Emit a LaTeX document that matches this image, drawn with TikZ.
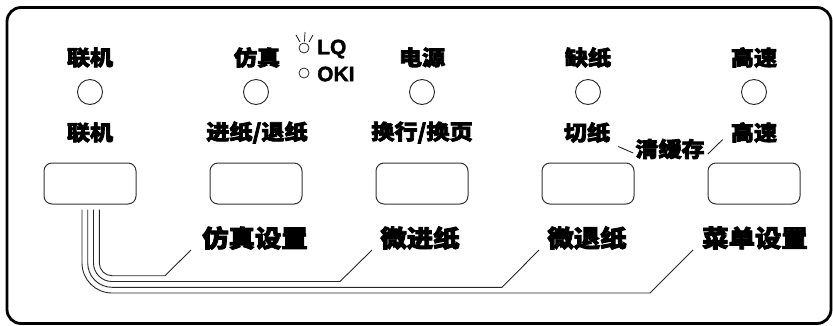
\documentclass[tikz,border=0pt]{standalone}
\usepackage{fontspec}
\newfontfamily\cjk{Noto Sans CJK SC}[FakeBold=3.5,FakeStretch=1.1]
\newfontfamily\lat{Liberation Sans Bold}[FakeBold=1.5]
\usetikzlibrary{calc}
\tikzset{
  lbl/.style={font=\cjk\bfseries\fontsize{21}{21}\selectfont, inner sep=0pt, text=black},
  biglbl/.style={font=\cjk\bfseries\fontsize{24}{24}\selectfont, inner sep=0pt, text=black},
  latlbl/.style={font=\lat\fontsize{21}{21}\selectfont, inner sep=0pt, anchor=west},
  led/.style={circle, draw=black!85, line width=0.9pt, minimum size=25pt, inner sep=0pt},
  miniled/.style={circle, draw=black!85, line width=0.8pt, minimum size=10pt, inner sep=0pt},
  pbutton/.style={draw=black!80, line width=1pt, rounded corners=8pt, minimum width=92pt, minimum height=41pt, inner sep=0pt},
  wire/.style={draw=black!85, line width=0.9pt},
  panel/.style={draw=black, line width=2.8pt, rounded corners=14pt}
}
\begin{document}
\begin{tikzpicture}[x=1pt,y=-1pt]
\clip (0,0) rectangle (833,325);
\draw[panel] (7,7.5) rectangle (831,323.5);

% top labels
\node[lbl] (t1) at (90,57.5) {联机};
\node[lbl] (t2) at (257,57.5) {仿真};
\node[lbl] (t3) at (422,57.5) {电源};
\node[lbl] (t4) at (588,57.5) {缺纸};
\node[lbl] (t5) at (754,57.5) {高速};

% LQ / OKI
\node[miniled] (sun) at (304,48) {};
\node[miniled] (okiled) at (304,73) {};
\draw[line width=0.7pt] (296,35) -- (300,42);
\draw[line width=0.7pt] (305,32) -- (304.5,41.5);
\draw[line width=0.7pt] (313,35) -- (309,42);
\node[latlbl] (lq) at (317,49) {LQ};
\node[latlbl] (oki) at (317,74) {OKI};

% LEDs
\foreach \i/\x in {1/90,2/256,3/422,4/588,5/754}
  \node[led] (l\i) at (\x,92) {};

% second labels
\node[lbl] (s1) at (90,132.5) {联机};
\node[lbl] (s2) at (257,132.5) {进纸/退纸};
\node[lbl] (s3) at (422,132.5) {换行/换页};
\node[lbl] (s4) at (587,132.5) {切纸};
\node[lbl] (s5) at (754,132.5) {高速};
\node[lbl] (clr) at (670,149) {清缓存};
\draw[wire] ($(s4.east)+(8,14)$) -- ($(clr.west)+(-2,4)$);
\draw[wire] ($(clr.east)+(3,5)$) -- ($(s5.west)+(-8,7)$);

% buttons
\foreach \i/\x in {1/90,2/256,3/422,4/588,5/754}
  \node[pbutton] (b\i) at (\x,183.5) {};

% bottom labels
\node[biglbl] (f1) at (255,238) {仿真设置};
\node[biglbl] (f2) at (420,238) {微进纸};
\node[biglbl] (f3) at (587,238) {微退纸};
\node[biglbl] (f4) at (755,238) {菜单设置};

\coordinate (e1) at (191,250);
\coordinate (e2) at (372,250);
\coordinate (e3) at (539,250);
\coordinate (e4) at (693,250);

\draw[wire] ($(b1.south)+(9.3,5)$) -- (99.3,263) arc[start angle=180, end angle=90, radius=12.7] -- (165,275.7) -- (e1);
\draw[wire] ($(b1.south)+(3.5,5)$) -- (93.5,263) arc[start angle=180, end angle=90, radius=18.5] -- (340,281.5) -- (e2);
\draw[wire] ($(b1.south)+(-2.3,5)$) -- (87.7,263) arc[start angle=180, end angle=90, radius=24.3] -- (502,287.3) -- (e3);
\draw[wire] ($(b1.south)+(-8,5)$) -- (82,263) arc[start angle=180, end angle=90, radius=30] -- (650,293) -- (e4);
\end{tikzpicture}
\end{document}
